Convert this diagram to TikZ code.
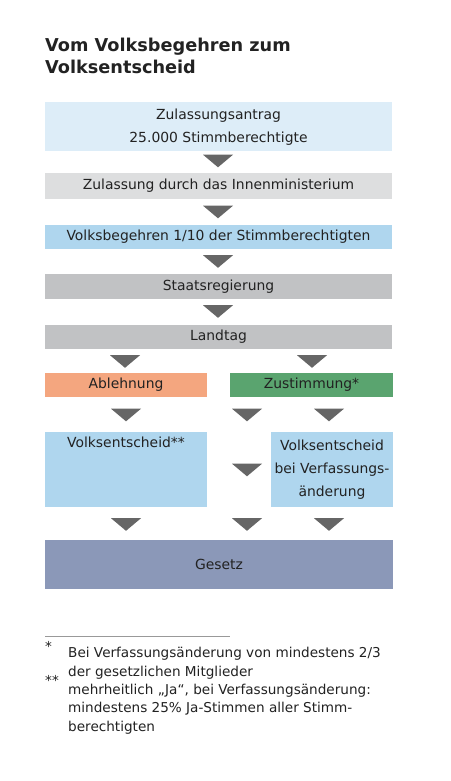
\documentclass[tikz,border=0pt]{standalone}
\usepackage{fontspec}
\setmainfont{DejaVu Sans}
\usetikzlibrary{calc}
\definecolor{vbInk}{HTML}{222222}
\definecolor{vbHell}{HTML}{DDEDF8}
\definecolor{vbGrauHell}{HTML}{DDDEDF}
\definecolor{vbBlau}{HTML}{AFD6EE}
\definecolor{vbGrau}{HTML}{C1C2C4}
\definecolor{vbLachs}{HTML}{F4A67F}
\definecolor{vbGruen}{HTML}{5AA46F}
\definecolor{vbSchiefer}{HTML}{8B98B8}
\definecolor{vbPfeil}{HTML}{666666}
\definecolor{vbLinie}{HTML}{999999}
\newcommand\vbTitel{\fontsize{17.7}{21.6}\selectfont\bfseries}
\newcommand\vbText{\fontsize{13.9}{23}\selectfont}
\newcommand\vbNote{\fontsize{13.6}{18.7}\selectfont}
\tikzset{
  vbBox/.style={inner sep=0pt, align=center, font=\vbText, text=vbInk},
  vbNoteText/.style={inner sep=0pt, align=left, anchor=north west, font=\vbNote, text=vbInk}
}

\begin{document}
\begin{tikzpicture}[x=1pt, y=-1pt,
  pfeil/.pic={\fill[vbPfeil] (-15,-6.3) -- (15,-6.3) -- (0,6.3) -- cycle;}
]
\fill[white] (0,0) rectangle (450,781);
\useasboundingbox (0,0) rectangle (450,781);

% Titel
\node[inner sep=0pt, align=left, anchor=north west, font=\vbTitel, text=vbInk] (titel)
  at (45,38.2) {Vom Volksbegehren zum\\Volksentscheid};

% Ablauf
\node[vbBox, fill=vbHell, minimum width=347pt, minimum height=49pt] (antrag)
  at (218.5,126.5) {\rule{0pt}{12pt}Zulassungsantrag\\25.000 Stimmberechtigte};
\node[vbBox, fill=vbGrauHell, minimum width=347pt, minimum height=26pt] (innen)
  at (218.5,186) {Zulassung durch das Innenministerium};
\node[vbBox, fill=vbBlau, minimum width=347pt, minimum height=24pt] (begehren)
  at (218.5,236.5) {Volksbegehren 1/10 der Stimmberechtigten};
\node[vbBox, fill=vbGrau, minimum width=347pt, minimum height=25pt] (staat)
  at (218.5,286.5) {Staatsregierung};
\node[vbBox, fill=vbGrau, minimum width=347pt, minimum height=24pt] (landtag)
  at (218.5,337) {Landtag};
\node[vbBox, fill=vbLachs, minimum width=162pt, minimum height=24pt] (ablehnung)
  at (126,385) {Ablehnung};
\node[vbBox, fill=vbGruen, minimum width=163pt, minimum height=24pt] (zustimmung)
  at (311.5,385) {Zustimmung*};
\node[vbBox, fill=vbBlau, minimum width=162pt, minimum height=75pt,
  label={[vbBox, anchor=center, label distance=-11pt]north:Volksentscheid**}] (entscheid)
  at (126,469.5) {};
\node[vbBox, fill=vbBlau, minimum width=122pt, minimum height=75pt] (verfassung)
  at (332,469.5) {Volksentscheid\\bei Verfassungs-\\änderung};
\node[vbBox, fill=vbSchiefer, minimum width=348pt, minimum height=49pt] (gesetz)
  at (219,564.5) {Gesetz};

% Pfeile
\pic at (218,161) {pfeil};
\pic at (218,212) {pfeil};
\pic at (218,261.5) {pfeil};
\pic at (218,311.5) {pfeil};
\pic at (125,361.5) {pfeil};
\pic at (312,361.5) {pfeil};
\pic at (126,415) {pfeil};
\pic at (247,415) {pfeil};
\pic at (329,415) {pfeil};
\pic at (247,470) {pfeil};
\pic at (126,524.5) {pfeil};
\pic at (247,524.5) {pfeil};
\pic at (329,524.5) {pfeil};

% Fussnoten
\draw[vbLinie, line width=0.6pt] (45,636) -- (230,636);
\node[vbNoteText] (stern) at (45,641.5) {*};
\node[vbNoteText] (note) at (68,647.4)
  {Bei Verfassungsänderung von mindestens 2/3\\der gesetzlichen Mitglieder};
\node[vbNoteText] (sterne) at (45,675.5) {**};
\node[vbNoteText] (notezwei) at (68,683.6)
  {mehrheitlich „Ja“, bei Verfassungsänderung:\\mindestens 25\% Ja-Stimmen aller Stimm-\\berechtigten};
\end{tikzpicture}
\end{document}
